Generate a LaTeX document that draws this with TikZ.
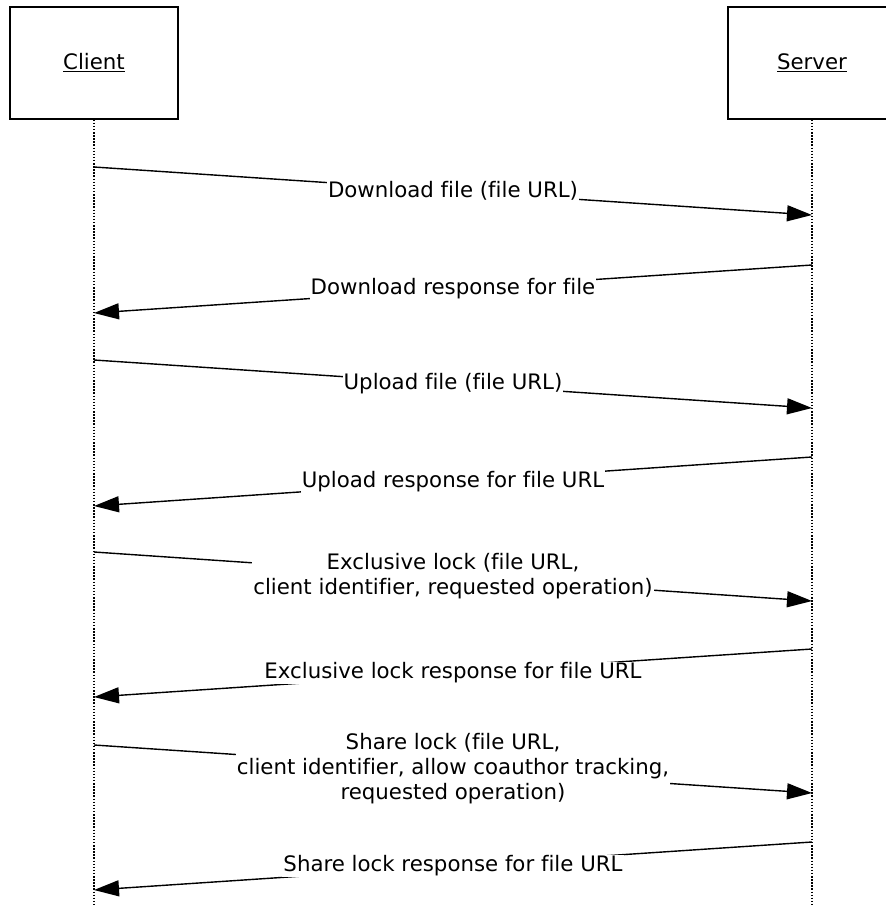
\documentclass[tikz,border=0pt]{standalone}
\usepackage{fontspec}
\setmainfont[Ligatures=NoCommon]{DejaVu Sans}
\usetikzlibrary{arrows.meta}
\tikzset{
  actor/.style={draw, line width=1.2pt, minimum width=168pt, minimum height=112pt, inner sep=0pt, font=\fontsize{21.3}{25}\selectfont},
  life/.style={line width=1.5pt, dash pattern=on 1.5pt off 1.6pt},
  msg/.style={line width=1.4pt, -{Triangle[length=25pt,width=16pt]}},
  lbl/.style={fill=white, inner sep=1pt, align=center, font=\fontsize{21.3}{25}\selectfont}
}
\begin{document}
\begin{tikzpicture}[x=1pt,y=-1pt]
\clip (0,0) rectangle (886,905);
\useasboundingbox (0,0) rectangle (886,905);
\node[actor] (client) at (94,63) {\underline{Client}};
\node[actor] (server) at (812,63) {\underline{Server}};
\coordinate (cend) at (94,905);
\coordinate (send) at (812,905);
\draw[life] (client.south) -- (cend);
\draw[life] (server.south) -- (send);
% message end points
\coordinate (c1) at (94,167); \coordinate (s1) at (812,215);
\coordinate (s2) at (812,265); \coordinate (c2) at (94,313);
\coordinate (c3) at (94,360); \coordinate (s3) at (812,408);
\coordinate (s4) at (812,457); \coordinate (c4) at (94,506);
\coordinate (c5) at (94,552); \coordinate (s5) at (812,601);
\coordinate (s6) at (812,649); \coordinate (c6) at (94,697);
\coordinate (c7) at (94,745); \coordinate (s7) at (812,793);
\coordinate (s8) at (812,842); \coordinate (c8) at (94,890);
\draw[msg] (c1) -- node[lbl] {Download file (file URL)} (s1);
\draw[msg] (s2) -- node[lbl] {Download response for file} (c2);
\draw[msg] (c3) -- node[lbl] {Upload file (file URL)} (s3);
\draw[msg] (s4) -- node[lbl] {Upload response for file URL} (c4);
\draw[msg] (c5) -- node[lbl] {Exclusive lock (file URL,\\client identifier, requested operation)} (s5);
\draw[msg] (s6) -- node[lbl] {Exclusive lock response for file URL} (c6);
\draw[msg] (c7) -- node[lbl] {Share lock (file URL,\\client identifier, allow coauthor tracking,\\requested operation)} (s7);
\draw[msg] (s8) -- node[lbl] {Share lock response for file URL} (c8);
\end{tikzpicture}
\end{document}
